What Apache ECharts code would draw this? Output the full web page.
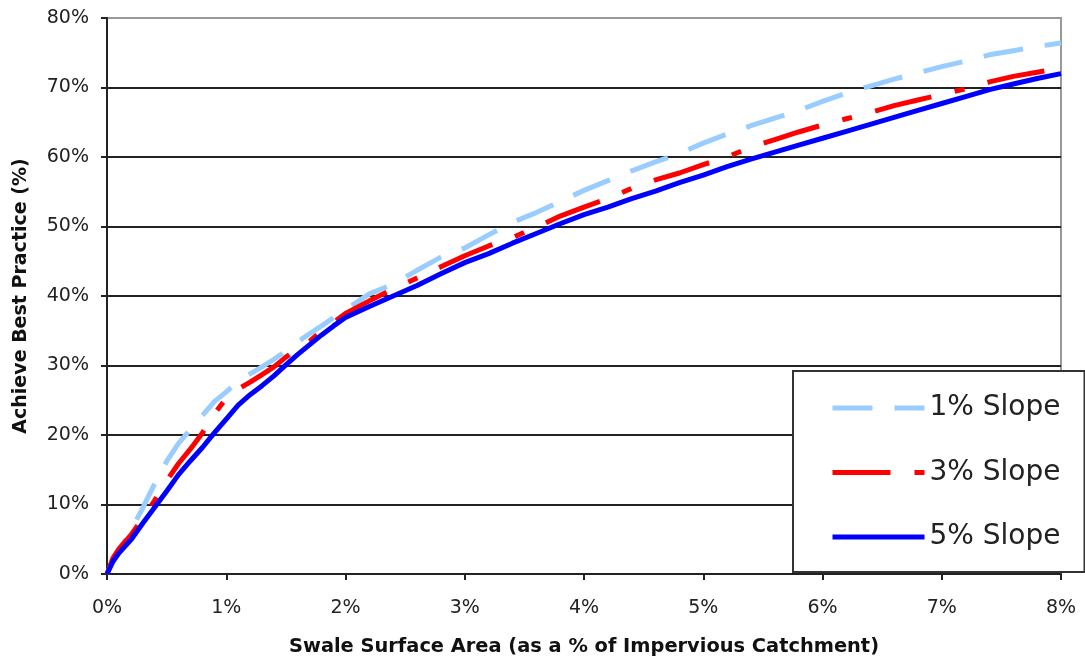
<!DOCTYPE html>
<html>
<head>
<meta charset="utf-8">
<script src="https://cdn.jsdelivr.net/npm/echarts@6/dist/echarts.min.js"></script>
<style>
html,body{margin:0;padding:0;background:#fff;}
#chart{width:1085px;height:661px;}
</style>
</head>
<body>
<div id="chart"></div>
<script>
var xValues = [0,0.05,0.1,0.2,0.3,0.4,0.5,0.6,0.7,0.8,0.9,1.0,1.1,1.2,1.3,1.4,1.5,1.6,1.7,1.8,1.9,2.0,
  2.2,2.4,2.6,2.8,3.0,3.2,3.4,3.6,3.8,4.0,4.2,4.4,4.6,4.8,5.0,5.2,5.4,5.6,5.8,6.0,6.2,6.4,6.6,6.8,7.0,7.2,7.4,7.6,7.8,8.0];
var slope1 = [0,2.0,3.3,6.3,9.5,13.0,16.2,18.8,20.8,22.8,24.8,26.2,27.7,28.8,29.8,30.9,32.1,33.4,34.6,35.7,36.9,38.0,
  40.3,41.7,43.7,45.6,46.9,48.8,50.6,52.0,53.6,55.2,56.6,58.0,59.3,60.5,62.0,63.3,64.5,65.6,66.7,68.0,69.2,70.2,71.2,72.1,73.0,73.8,74.7,75.3,75.9,76.4];
var slope3 = [0,2.3,3.6,5.6,8.0,10.6,13.4,15.9,18.0,20.3,23.0,25.3,26.6,27.6,28.7,29.8,31.2,32.4,33.5,35.0,36.2,37.5,
  39.3,41.0,42.6,44.2,45.8,47.2,48.4,49.9,51.5,52.8,54.0,55.5,56.7,57.7,58.9,60.0,61.4,62.5,63.6,64.6,65.5,66.4,67.4,68.2,69.0,69.8,70.8,71.6,72.2,72.8];
var slope5 = [0,1.8,3.0,4.9,7.3,9.6,11.9,14.3,16.3,18.2,20.3,22.3,24.3,25.8,27.1,28.5,30.1,31.6,33.0,34.4,35.7,36.9,
  38.5,40.0,41.5,43.2,44.8,46.1,47.6,49.0,50.4,51.7,52.8,54.0,55.1,56.3,57.4,58.6,59.7,60.7,61.7,62.7,63.7,64.7,65.7,66.7,67.7,68.7,69.7,70.5,71.3,72.0];
var seriesNames = ['1% Slope','3% Slope','5% Slope'];
var xTicks = [0,1,2,3,4,5,6,7,8];
var yTicks = [0,10,20,30,40,50,60,70,80];

function pairs(ys){ return xValues.map(function(x,i){ return [x, ys[i]]; }); }

var FONT = 'DejaVu Sans';
var chart = echarts.init(document.getElementById('chart'), null, {renderer:'canvas'});
chart.setOption({
  animation: false,
  backgroundColor: '#fff',
  grid: { left: 107, right: 24, top: 18, bottom: 85, show: true, borderColor: '#999', borderWidth: 2, backgroundColor: 'transparent' },
  xAxis: {
    type: 'value', min: xTicks[0], max: xTicks[xTicks.length-1], interval: 1,
    name: 'Swale Surface Area (as a % of Impervious Catchment)',
    nameLocation: 'middle', nameGap: 63,
    nameTextStyle: { fontFamily: FONT, fontWeight: 'bold', fontSize: 19.4, color: '#111' },
    axisLine: { show: true, lineStyle: { color: '#222', width: 2 } },
    axisTick: { show: true, inside: false, length: 6, lineStyle: { color: '#222', width: 2 } },
    axisLabel: { formatter: '{value}%', fontFamily: FONT, fontSize: 19, color: '#222', margin: 25 },
    splitLine: { show: false }
  },
  yAxis: {
    type: 'value', min: yTicks[0], max: yTicks[yTicks.length-1], interval: 10,
    name: 'Achieve Best Practice (%)',
    nameLocation: 'middle', nameGap: 76, nameRotate: 90,
    nameTextStyle: { fontFamily: FONT, fontWeight: 'bold', fontSize: 19, color: '#111' },
    axisLine: { show: true, lineStyle: { color: '#222', width: 2 } },
    axisTick: { show: true, inside: false, length: 6, lineStyle: { color: '#222', width: 2 } },
    axisLabel: { formatter: '{value}%', fontFamily: FONT, fontSize: 19, color: '#222', margin: 18 },
    splitLine: { show: true, showMaxLine: false, lineStyle: { color: '#222', width: 2 } }
  },
  legend: {
    orient: 'vertical', left: 793, top: 371,
    padding: [23, 24, 21, 37], itemGap: 36.5,
    itemWidth: 92, itemHeight: 14,
    backgroundColor: '#fff', borderColor: '#333', borderWidth: 2, borderRadius: 0,
    textStyle: { fontFamily: FONT, fontSize: 28, color: '#222' },
    itemStyle: { opacity: 0 },
    lineStyle: { width: 'inherit', opacity: 1 },
    data: seriesNames,
    z: 10
  },
  series: [
    { name: seriesNames[0], type: 'line', data: pairs(slope1), showSymbol: false, symbol: 'none',
      lineStyle: { color: '#99CCFF', width: 5, type: [40, 22] }, itemStyle: { color: '#99CCFF' }, z: 3 },
    { name: seriesNames[1], type: 'line', data: pairs(slope3), showSymbol: false, symbol: 'none',
      lineStyle: { color: '#FF0000', width: 5, type: [58, 24, 10, 24] }, itemStyle: { color: '#FF0000' }, z: 4 },
    { name: seriesNames[2], type: 'line', data: pairs(slope5), showSymbol: false, symbol: 'none',
      lineStyle: { color: '#0000FF', width: 5 }, itemStyle: { color: '#0000FF' }, z: 5 }
  ]
});
</script>
</body>
</html>
